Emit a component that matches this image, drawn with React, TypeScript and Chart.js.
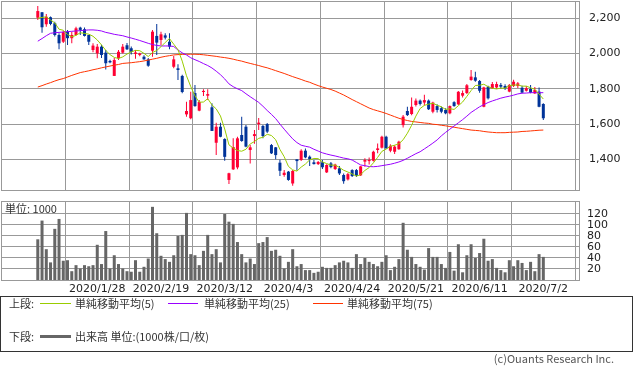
import React, { useEffect, useRef } from 'react';
import { Chart, registerables } from 'chart.js';

Chart.register(...registerables);

// ---- categories: trading days shown (2020) ----
const YEAR = 2020;
const tradingDays: number[][] = [
  [7, 8, 9, 10, 14, 15, 16, 17, 20, 21, 22, 23, 24, 27, 28, 29, 30, 31],
  [3, 4, 5, 6, 7, 10, 12, 13, 14, 17, 18, 19, 20, 21, 25, 26, 27, 28],
  [2, 3, 4, 5, 6, 9, 10, 11, 12, 13, 16, 17, 18, 19, 23, 24, 25, 26, 27, 30, 31],
  [1, 2, 3, 6, 7, 8, 9, 10, 13, 14, 15, 16, 17, 20, 21, 22, 23, 24, 27, 28, 30],
  [1, 7, 8, 11, 12, 13, 14, 15, 18, 19, 20, 21, 22, 25, 26, 27, 28, 29],
  [1, 2, 3, 4, 5, 8, 9, 10, 11, 12, 15, 16, 17, 18, 19, 22, 23, 24, 25, 26, 29, 30],
  [1, 2],
];
const dates: string[] = tradingDays.flatMap((days, m) => days.map((d) => `${YEAR}/${m + 1}/${d}`));

const tickDates = ['2020/1/28', '2020/2/19', '2020/3/12', '2020/4/3', '2020/4/24', '2020/5/21', '2020/6/11', '2020/7/2'];
const priceTicks = [1400, 1600, 1800, 2000, 2200];
const volumeTicks = [20, 40, 60, 80, 100, 120];

// ---- series ----
const opens = [
  2203, 2234, 2166, 2206, 2172, 2105, 2067, 2124, 2087, 2105,
  2147, 2138, 2105, 2020, 2001, 2039, 2005, 1958, 1873, 1973,
  2005, 2047, 2030, 1998, 1992, 1982, 1967, 2016, 2100, 2077,
  2103, 2067, 1925, 1916, 1873, 1655, 1633, 1776, 1676, 1782,
  1761, 1695, 1494, 1585, 1515, 1283, 1343, 1354, 1538, 1585,
  1453, 1532, 1600, 1589, 1600, 1481, 1468, 1381, 1311, 1330,
  1263, 1400, 1396, 1449, 1415, 1383, 1373, 1383, 1326, 1377,
  1345, 1349, 1311, 1286, 1339, 1339, 1309, 1387, 1390, 1392,
  1453, 1466, 1528, 1449, 1443, 1457, 1594, 1674, 1657, 1708,
  1733, 1722, 1733, 1670, 1702, 1690, 1680, 1661, 1724, 1712,
  1761, 1776, 1850, 1865, 1844, 1698, 1812, 1803, 1808, 1822,
  1816, 1784, 1816, 1816, 1806, 1789, 1799, 1774, 1784, 1714,
];
const highs = [
  2270, 2236, 2224, 2210, 2181, 2115, 2128, 2134, 2124, 2152,
  2152, 2147, 2107, 2058, 2054, 2050, 2020, 1965, 1975, 2020,
  2054, 2060, 2040, 2020, 2005, 1990, 1975, 2134, 2168, 2124,
  2115, 2115, 1986, 1939, 1880, 1727, 1783, 1822, 1736, 1797,
  1797, 1718, 1608, 1608, 1519, 1324, 1519, 1528, 1642, 1594,
  1481, 1566, 1634, 1594, 1606, 1487, 1470, 1398, 1339, 1334,
  1339, 1400, 1457, 1462, 1421, 1396, 1390, 1396, 1372, 1385,
  1375, 1362, 1320, 1322, 1343, 1345, 1362, 1406, 1410, 1449,
  1490, 1534, 1534, 1485, 1480, 1506, 1651, 1698, 1750, 1745,
  1740, 1766, 1740, 1727, 1712, 1700, 1690, 1705, 1730, 1787,
  1790, 1827, 1907, 1897, 1850, 1812, 1818, 1839, 1840, 1833,
  1826, 1827, 1852, 1839, 1818, 1816, 1821, 1810, 1808, 1718,
];
const lows = [
  2190, 2118, 2152, 2160, 2096, 2024, 2060, 2049, 2058, 2103,
  2105, 2096, 2049, 2007, 1973, 1975, 1910, 1945, 1873, 1963,
  2000, 2020, 1995, 1970, 1985, 1965, 1925, 1982, 1992, 2049,
  2080, 2024, 1916, 1850, 1775, 1642, 1627, 1698, 1672, 1759,
  1736, 1561, 1424, 1525, 1392, 1260, 1340, 1343, 1500, 1468,
  1377, 1489, 1566, 1519, 1549, 1430, 1400, 1305, 1301, 1279,
  1250, 1335, 1390, 1406, 1362, 1370, 1368, 1345, 1322, 1350,
  1340, 1311, 1262, 1280, 1300, 1300, 1305, 1358, 1370, 1388,
  1434, 1462, 1460, 1440, 1430, 1455, 1581, 1646, 1650, 1700,
  1705, 1705, 1680, 1661, 1665, 1662, 1655, 1655, 1698, 1708,
  1750, 1770, 1846, 1840, 1778, 1695, 1740, 1799, 1800, 1800,
  1793, 1780, 1810, 1805, 1775, 1785, 1775, 1770, 1695, 1623,
];
const closes = [
  2241, 2149, 2209, 2168, 2105, 2058, 2121, 2087, 2105, 2143,
  2134, 2100, 2067, 2045, 2039, 1992, 1945, 1950, 1963, 2010,
  2039, 2024, 2010, 2006, 2000, 1967, 1931, 2124, 2062, 2109,
  2090, 2039, 1967, 1907, 1782, 1674, 1736, 1702, 1725, 1788,
  1770, 1561, 1585, 1528, 1414, 1321, 1470, 1519, 1504, 1472,
  1468, 1543, 1608, 1532, 1557, 1434, 1424, 1335, 1324, 1283,
  1334, 1390, 1449, 1411, 1400, 1373, 1385, 1355, 1368, 1356,
  1370, 1320, 1276, 1316, 1305, 1307, 1360, 1396, 1396, 1443,
  1462, 1528, 1462, 1477, 1472, 1500, 1642, 1651, 1698, 1733,
  1714, 1736, 1684, 1722, 1680, 1670, 1661, 1702, 1702, 1783,
  1776, 1820, 1869, 1846, 1789, 1808, 1746, 1827, 1827, 1812,
  1803, 1822, 1840, 1831, 1778, 1803, 1778, 1793, 1698, 1633,
];
const volumes = [
  74, 108, 56, 32, 93, 111, 35, 36, 16, 27,
  21, 27, 25, 27, 64, 29, 89, 21, 45, 29,
  21, 16, 15, 36, 15, 24, 39, 133, 85, 44,
  38, 33, 45, 80, 82, 122, 47, 45, 27, 53,
  82, 47, 56, 32, 120, 106, 102, 69, 47, 32,
  39, 29, 67, 69, 78, 53, 55, 44, 21, 33,
  56, 25, 29, 18, 18, 13, 15, 24, 22, 22,
  27, 32, 35, 32, 22, 47, 29, 40, 33, 29,
  25, 33, 45, 18, 24, 38, 104, 55, 42, 29,
  24, 19, 58, 42, 42, 29, 22, 51, 17, 65,
  14, 45, 65, 40, 49, 75, 35, 38, 22, 18,
  14, 36, 25, 36, 31, 18, 33, 16, 47, 42,
];
const ma5 = [
  2200, 2205, 2208, 2190, 2174, 2138, 2132, 2108, 2095, 2103,
  2118, 2114, 2110, 2098, 2077, 2049, 2018, 1994, 1978, 1972,
  1981, 1997, 2009, 2018, 2016, 2001, 1983, 2006, 2017, 2039,
  2063, 2085, 2053, 2022, 1957, 1874, 1813, 1760, 1724, 1725,
  1744, 1709, 1686, 1646, 1572, 1482, 1464, 1450, 1446, 1457,
  1487, 1501, 1519, 1525, 1542, 1535, 1511, 1456, 1415, 1360,
  1340, 1333, 1356, 1373, 1397, 1405, 1404, 1385, 1376, 1367,
  1367, 1354, 1338, 1328, 1317, 1305, 1313, 1337, 1353, 1380,
  1411, 1445, 1458, 1474, 1480, 1488, 1511, 1548, 1593, 1645,
  1688, 1706, 1713, 1718, 1707, 1698, 1683, 1687, 1683, 1704,
  1725, 1757, 1790, 1819, 1820, 1826, 1812, 1803, 1799, 1804,
  1803, 1818, 1821, 1822, 1815, 1815, 1806, 1797, 1770, 1742,
];
const ma25 = [
  2070, 2085, 2101, 2115, 2118, 2120, 2122, 2124, 2126, 2128,
  2130, 2132, 2134, 2134, 2132, 2128, 2120, 2115, 2109, 2105,
  2101, 2094, 2088, 2081, 2074, 2066, 2058, 2051, 2046, 2043,
  2043, 2043, 2040, 2020, 2004, 1992, 1976, 1965, 1955, 1943,
  1932, 1918, 1900, 1880, 1856, 1828, 1812, 1800, 1790, 1772,
  1755, 1739, 1723, 1701, 1677, 1655, 1631, 1600, 1571, 1543,
  1516, 1495, 1480, 1474, 1469, 1457, 1447, 1437, 1430, 1424,
  1419, 1413, 1407, 1403, 1396, 1382, 1368, 1364, 1359, 1358,
  1360, 1364, 1368, 1372, 1378, 1385, 1394, 1406, 1419, 1432,
  1443, 1459, 1475, 1492, 1510, 1533, 1553, 1571, 1589, 1607,
  1625, 1645, 1666, 1682, 1698, 1710, 1722, 1731, 1739, 1747,
  1753, 1758, 1764, 1771, 1775, 1776, 1778, 1778, 1778, 1778,
];
const ma75 = [
  1810, 1818, 1827, 1835, 1844, 1852, 1858, 1867, 1876, 1884,
  1892, 1897, 1902, 1908, 1913, 1919, 1924, 1929, 1934, 1938,
  1944, 1946, 1948, 1951, 1954, 1958, 1963, 1968, 1973, 1979,
  1984, 1988, 1992, 1994, 1995, 1996, 1996, 1996, 1995, 1993,
  1990, 1987, 1984, 1980, 1977, 1973, 1968, 1962, 1957, 1950,
  1944, 1938, 1932, 1925, 1919, 1911, 1903, 1895, 1887, 1878,
  1869, 1861, 1853, 1844, 1837, 1827, 1818, 1810, 1803, 1796,
  1787, 1776, 1765, 1752, 1739, 1727, 1715, 1703, 1691, 1682,
  1675, 1668, 1660, 1651, 1642, 1633, 1626, 1620, 1615, 1612,
  1609, 1606, 1604, 1599, 1597, 1593, 1590, 1586, 1582, 1578,
  1574, 1570, 1566, 1564, 1562, 1558, 1555, 1553, 1551, 1551,
  1551, 1553, 1554, 1555, 1558, 1559, 1561, 1563, 1565, 1566,
];

// ---- styles ----
const GRID = '#999999';
const RED = '#ff0033';
const BLUE = '#003399';
const C_MA5 = '#99cc00';
const C_MA25 = '#9900ff';
const C_MA75 = '#ff3300';
const C_VOL = '#666666';
const TEXT = '#222222';
const FONT = '"DejaVu Sans", "Noto Sans CJK JP", sans-serif';
const JFONT = '"Noto Sans CJK JP", "DejaVu Sans", sans-serif';
const X_MIN = -8.66;
const X_MAX = 127.4;

function framePlugin(id: string) {
  return {
    id,
    beforeDatasetsDraw(chart: any) {
      const { ctx, chartArea: a } = chart;
      ctx.save();
      ctx.strokeStyle = GRID;
      ctx.lineWidth = 1;
      ctx.strokeRect(
        Math.round(a.left) + 0.5,
        Math.round(a.top) + 0.5,
        Math.round(a.right - a.left),
        Math.round(a.bottom - a.top)
      );
      ctx.restore();
    },
  };
}

const noPad = (s: any) => {
  s.paddingTop = 0;
  s.paddingBottom = 0;
  s.paddingLeft = 0;
  s.paddingRight = 0;
};

export default function App() {
  const priceRef = useRef<HTMLCanvasElement>(null);
  const volRef = useRef<HTMLCanvasElement>(null);

  useEffect(() => {
    const idx = dates.map((_, i) => i);
    const tickIdx = tickDates.map((d) => dates.indexOf(d));
    const colors = idx.map((i) => (closes[i] >= opens[i] ? RED : BLUE));

    const xScaleBase = {
      type: 'linear' as const,
      min: X_MIN,
      max: X_MAX,
      offset: false,
      grid: { color: GRID, drawTicks: false, lineWidth: 1 },
      border: { display: false },
      afterBuildTicks: (s: any) => {
        s.ticks = tickIdx.map((v) => ({ value: v }));
      },
    };

    const lineDs = (label: string, values: number[], color: string) => ({
      type: 'line' as const,
      label,
      data: idx.map((i) => ({ x: i, y: values[i] })),
      borderColor: color,
      borderWidth: 1,
      pointRadius: 0,
      tension: 0,
      fill: false,
      order: 0,
    });

    const price = new Chart(priceRef.current as HTMLCanvasElement, {
      type: 'bar',
      data: {
        datasets: [
          lineDs('単純移動平均(5)', ma5, C_MA5),
          lineDs('単純移動平均(25)', ma25, C_MA25),
          lineDs('単純移動平均(75)', ma75, C_MA75),
          {
            type: 'bar',
            label: 'wick',
            data: idx.map((i) => ({ x: i, y: [lows[i], highs[i]] })) as any,
            backgroundColor: colors,
            barThickness: 1,
            grouped: false,
            inflateAmount: 0,
            order: 2,
          } as any,
          {
            type: 'bar',
            label: 'body',
            data: idx.map((i) => ({ x: i, y: [opens[i], closes[i]] })) as any,
            backgroundColor: colors,
            barThickness: 3,
            minBarLength: 1,
            grouped: false,
            inflateAmount: 0,
            order: 1,
          } as any,
        ],
      },
      options: {
        responsive: false,
        animation: false,
        events: [],
        layout: { padding: { left: 1, top: 1, right: 0, bottom: 0 } },
        plugins: { legend: { display: false }, tooltip: { enabled: false } },
        scales: {
          x: {
            ...xScaleBase,
            ticks: { display: false },
            afterFit: (s: any) => {
              s.height = 10;
              noPad(s);
            },
          } as any,
          y: {
            type: 'linear',
            position: 'right',
            min: 1226,
            max: 2298,
            grid: { color: GRID, drawTicks: false, lineWidth: 1 },
            border: { display: false },
            ticks: {
              padding: 10,
              color: TEXT,
              autoSkip: false,
              font: { family: FONT, size: 11 },
              callback: (v: any) => Number(v).toLocaleString('en-US'),
            },
            afterBuildTicks: (s: any) => {
              s.ticks = priceTicks.map((v) => ({ value: v }));
            },
            afterFit: (s: any) => {
              s.width = 54;
              noPad(s);
            },
          } as any,
        },
      },
      plugins: [framePlugin('frame-price')],
    });

    const vol = new Chart(volRef.current as HTMLCanvasElement, {
      type: 'bar',
      data: {
        datasets: [
          {
            label: '出来高',
            data: idx.map((i) => ({ x: i, y: volumes[i] })) as any,
            backgroundColor: C_VOL,
            barThickness: 3,
            inflateAmount: 0,
          } as any,
        ],
      },
      options: {
        responsive: false,
        animation: false,
        events: [],
        layout: { padding: { left: 1, top: 6, right: 0, bottom: 0 } },
        plugins: { legend: { display: false }, tooltip: { enabled: false } },
        scales: {
          x: {
            ...xScaleBase,
            ticks: {
              padding: 3,
              color: TEXT,
              font: { family: FONT, size: 11 },
              maxRotation: 0,
              autoSkip: false,
              callback: (v: any) => dates[Math.round(Number(v))] ?? '',
            },
            afterFit: (s: any) => {
              s.height = 15;
              noPad(s);
            },
          } as any,
          y: {
            type: 'linear',
            position: 'right',
            min: 0,
            max: 143.6,
            grid: { color: GRID, drawTicks: false, lineWidth: 1 },
            border: { display: false },
            ticks: {
              padding: 8,
              color: TEXT,
              autoSkip: false,
              font: { family: FONT, size: 11 },
            },
            afterBuildTicks: (s: any) => {
              s.ticks = volumeTicks.map((v) => ({ value: v }));
            },
            afterFit: (s: any) => {
              s.width = 54;
              noPad(s);
            },
          } as any,
        },
      },
      plugins: [framePlugin('frame-vol')],
    });

    return () => {
      price.destroy();
      vol.destroy();
    };
  }, []);

  const txt: React.CSSProperties = {
    position: 'absolute',
    fontFamily: JFONT,
    fontSize: 11,
    lineHeight: '14px',
    color: '#333',
    whiteSpace: 'nowrap',
  };
  const sample = (left: number, top: number, width: number, height: number, color: string) => (
    <div style={{ position: 'absolute', left, top, width, height, background: color }} />
  );

  return (
    <div style={{ position: 'absolute', left: 0, top: 0, width: 633, height: 375, background: '#fff', overflow: 'hidden' }}>
      <canvas ref={priceRef} width={633} height={200} style={{ position: 'absolute', left: 0, top: 0 }} />
      <canvas ref={volRef} width={633} height={100} style={{ position: 'absolute', left: 0, top: 195 }} />
      <div style={{ ...txt, left: 5, top: 201 }}>単位: 1000</div>

      <div style={{ position: 'absolute', left: 0, top: 296, width: 631, height: 54, border: '1px solid #333' }} />
      <div style={{ ...txt, left: 9, top: 296 }}>上段:</div>
      {sample(40, 303, 31, 1, C_MA5)}
      <div style={{ ...txt, left: 75, top: 296 }}>単純移動平均(5)</div>
      {sample(168, 303, 30, 1, C_MA25)}
      <div style={{ ...txt, left: 204, top: 296 }}>単純移動平均(25)</div>
      {sample(313, 303, 30, 1, C_MA75)}
      <div style={{ ...txt, left: 347, top: 296 }}>単純移動平均(75)</div>

      <div style={{ ...txt, left: 9, top: 329 }}>下段:</div>
      {sample(40, 335, 31, 3, C_VOL)}
      <div style={{ ...txt, left: 75, top: 329 }}>出来高 単位:(1000株/口/枚)</div>

      <div style={{ ...txt, right: 19, top: 351, color: '#555' }}>(c)Ouants Research Inc.</div>
    </div>
  );
}
